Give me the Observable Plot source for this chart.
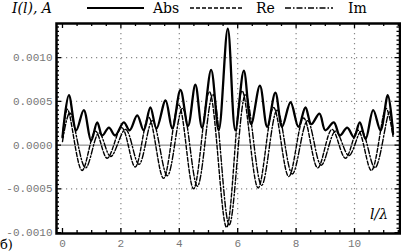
<!DOCTYPE html>
<html><head><meta charset="utf-8">
<script src="https://cdn.jsdelivr.net/npm/d3@7"></script>
<script src="https://cdn.jsdelivr.net/npm/@observablehq/plot@0.6"></script>
<style>
body{margin:0;background:#fff;}
#wrap{position:relative;width:401px;height:252px;overflow:hidden;background:#fff;}
#chart{position:absolute;left:0;top:20px;}
#over{position:absolute;left:0;top:0;pointer-events:none;}
</style></head><body>
<div id="wrap">
<div id="chart"></div>
<svg id="over" width="401" height="252" font-family="DejaVu Serif">
  <text x="12" y="13" font-size="14" font-style="italic">I(l), A</text>
  <line x1="87" x2="144" y1="8" y2="8" stroke="#000" stroke-width="2"/>
  <text x="153" y="13" font-size="14">Abs</text>
  <line x1="190" x2="243" y1="8" y2="8" stroke="#000" stroke-width="1.3" stroke-dasharray="4,2"/>
  <text x="256" y="13" font-size="14">Re</text>
  <line x1="285" x2="333" y1="8" y2="8" stroke="#000" stroke-width="1.3" stroke-dasharray="6,2,1.5,2"/>
  <text x="348" y="13" font-size="14">Im</text>
  <text x="370" y="219" font-size="14" font-style="italic">l/λ</text>
  <text x="0" y="248.5" font-size="13">б)</text>
</svg>
</div>
<script>
// Abs(I): alternating maxima / minima
const absL = [0, 0.22, 0.47, 0.73, 0.98, 1.19, 1.36, 1.59, 1.80, 2.10, 2.30, 2.56, 2.78, 3.01, 3.22, 3.53, 3.76, 4.04, 4.30, 4.55, 4.78, 5.09, 5.35, 5.66, 5.92, 6.21, 6.46, 6.76, 7.01, 7.29, 7.52, 7.81, 8.08, 8.32, 8.52, 8.80, 9.00, 9.29, 9.50, 9.75, 9.98, 10.18, 10.38, 10.64, 10.89, 11.14, 11.32];
const absV = [0.00009, 0.00057, 0.00017, 0.00040, 0.00005, 0.00026, 0.00011, 0.00020, 0.00011, 0.00026, 0.00017, 0.00034, 0.00017, 0.00043, 0.00019, 0.00051, 0.00019, 0.00063, 0.00022, 0.00069, 0.00020, 0.00086, 0.00017, 0.00133, 0.00017, 0.00085, 0.00024, 0.00068, 0.00021, 0.00060, 0.00021, 0.00049, 0.00021, 0.00043, 0.00024, 0.00036, 0.00017, 0.00026, 0.00011, 0.00020, 0.00009, 0.00026, 0.00007, 0.00040, 0.00017, 0.00057, 0.00013];
// Re(I): extrema
const reL = [0, 0.17, 0.67, 1.13, 1.53, 2.03, 2.49, 2.95, 3.46, 3.98, 4.49, 5.03, 5.62, 6.15, 6.70, 7.23, 7.75, 8.26, 8.74, 9.23, 9.69, 10.12, 10.58, 11.08, 11.32];
const reV = [0.00010, 0.00041, -0.00029, 0.00016, -0.00015, 0.00020, -0.00025, 0.00032, -0.00038, 0.00046, -0.00050, 0.00061, -0.00094, 0.00062, -0.00049, 0.00043, -0.00036, 0.00031, -0.00026, 0.00018, -0.00015, 0.00017, -0.00029, 0.00042, 0.00010];
// Im(I): extrema
const imL = [0, 0.25, 0.79, 1.25, 1.65, 2.16, 2.62, 3.08, 3.59, 4.11, 4.62, 5.15, 5.71, 6.27, 6.82, 7.35, 7.87, 8.39, 8.86, 9.35, 9.81, 10.24, 10.70, 11.20, 11.32];
const imV = [0.00004, 0.00037, -0.00026, 0.00014, -0.00013, 0.00018, -0.00022, 0.00028, -0.00035, 0.00042, -0.00047, 0.00058, -0.00091, 0.00058, -0.00046, 0.00040, -0.00033, 0.00028, -0.00023, 0.00016, -0.00012, 0.00016, -0.00026, 0.00038, 0.00018];

const xTicks = [0, 2, 4, 6, 8, 10];
const xGrid = [2, 4, 6, 8, 10];
const yTicks = [-0.001, -0.0005, 0, 0.0005, 0.001];
const yGrid = [-0.0005, 0.0005, 0.001];

const absData = absL.map((l, i) => ({l, v: absV[i]}));
const reData = reL.map((l, i) => ({l, v: reV[i]}));
const imData = imL.map((l, i) => ({l, v: imV[i]}));

const W = 401, H = 232, ml = 56, mr = 1.5, mt = 3, mb = 19;
const fw = W - ml - mr, fh = H - mt - mb;
const xMinor = d3.range(0, 11.6, 0.5).filter(d => d % 2 !== 0);
const xMajor = xTicks;
const yMinor = d3.range(-0.001, 0.0014, 0.00005).map(d => +d.toFixed(6)).filter(d => Math.abs(d / 0.0005 - Math.round(d / 0.0005)) > 1e-6);
const yMajor = yTicks;

const grey = "#888";
const chart = Plot.plot({
  width: W, height: H,
  marginLeft: ml, marginRight: mr, marginTop: mt, marginBottom: mb,
  style: {fontFamily: "Liberation Mono", fontSize: "11px", background: "white"},
  x: {domain: [-0.205, 11.558]},
  y: {domain: [-0.00101, 0.00139]},
  marks: [
    Plot.gridX(xGrid, {stroke: grey, strokeOpacity: 1, strokeWidth: 1.2, strokeDasharray: "1.2,3.8"}),
    Plot.gridY(yGrid, {stroke: grey, strokeOpacity: 1, strokeWidth: 1.2, strokeDasharray: "1.2,3.8"}),
    Plot.ruleY([0], {stroke: "#777", strokeWidth: 1}),
    Plot.line(reData, {x: "l", y: "v", curve: "catmull-rom", stroke: "#000", strokeWidth: 1.4, strokeDasharray: "4,2"}),
    Plot.line(imData, {x: "l", y: "v", curve: "catmull-rom", stroke: "#000", strokeWidth: 1.4, strokeDasharray: "6,2,1.5,2"}),
    Plot.line(absData, {x: "l", y: "v", curve: "catmull-rom", stroke: "#000", strokeWidth: 2.3}),
    // inward ticks on all four sides
    Plot.tickY(yMajor, {y: d => d, insetRight: fw - 5, strokeWidth: 1.3}),
    Plot.tickY(yMinor, {y: d => d, insetRight: fw - 3, strokeWidth: 1.3}),
    Plot.tickY(yMajor, {y: d => d, insetLeft: fw - 5, strokeWidth: 1.3}),
    Plot.tickY(yMinor, {y: d => d, insetLeft: fw - 3, strokeWidth: 1.3}),
    Plot.tickX(xMajor, {x: d => d, insetTop: fh - 5, strokeWidth: 1.3}),
    Plot.tickX(xMinor, {x: d => d, insetTop: fh - 3, strokeWidth: 1.3}),
    Plot.tickX(xMajor, {x: d => d, insetBottom: fh - 5, strokeWidth: 1.3}),
    Plot.tickX(xMinor, {x: d => d, insetBottom: fh - 3, strokeWidth: 1.3}),
    Plot.frame({stroke: "#000", strokeWidth: 2.5}),
    Plot.axisY({ticks: yTicks, tickSize: 0, tickPadding: 4, label: null, tickFormat: d => d.toFixed(4), fill: "#777"}),
    Plot.axisX({ticks: xTicks, tickSize: 0, tickPadding: 6, label: null, tickFormat: d => String(d), fill: "#777"})
  ]
});
document.getElementById("chart").appendChild(chart);
</script>
</body></html>
